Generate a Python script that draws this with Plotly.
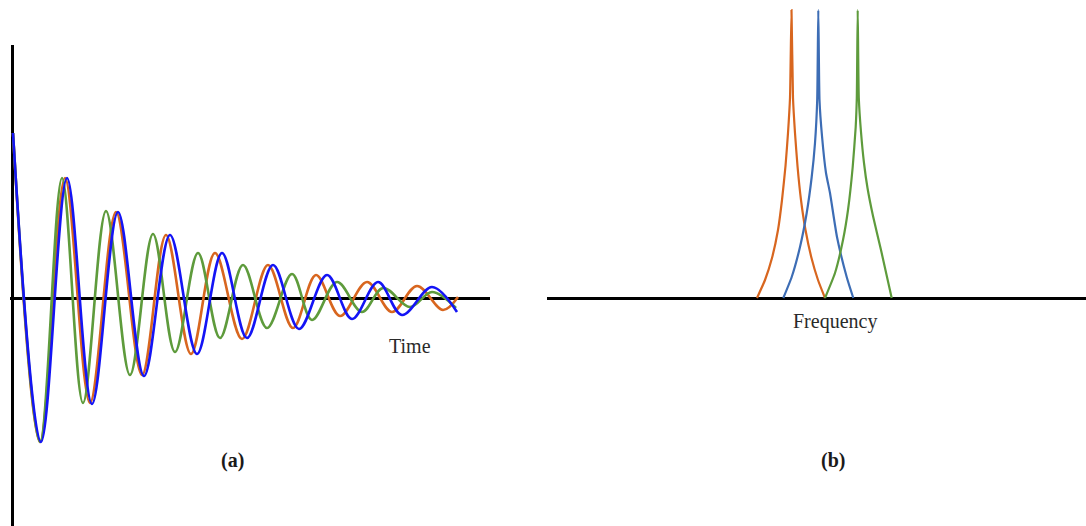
import plotly.graph_objects as go

W, H = 1086, 526

# ---------- Panel (a): damped oscillations (extrema) ----------
# x in time units (pixels from origin), y amplitude (pixels above baseline)
green_t = [1, 28, 50, 71, 94, 118, 141, 163, 186, 208, 231, 255, 280, 300, 325, 350, 371, 398, 420, 444]
green_a = [165, -144, 120, -105, 87, -77, 64, -54, 45, -40, 33, -30, 24, -22, 16, -14, 10, -9, 6, -10]

orange_t = [1, 28, 53, 78, 104, 130, 154, 179, 203, 230, 256, 281, 304, 328, 355, 380, 405, 431, 446]
orange_a = [165, -144, 120, -105, 86, -77, 63, -56, 45, -41, 33, -30, 23, -18, 16, -14, 12, -12, 1]

blue_t = [1, 29, 55, 80, 106, 132, 158, 185, 210, 235, 261, 287, 315, 340, 366, 390, 420, 445]
blue_a = [165, -144, 120, -106, 86, -78, 63, -56, 45, -40, 33, -31, 23, -21, 16, -17, 11, -14]

# ---------- Panel (b): spectral peaks ----------
orange_f = [757, 765, 772, 778, 782, 785.5, 788, 790, 791.5, 793, 795, 797.5, 801, 805.5, 811.5, 818, 825]
orange_s = [0, 18, 40, 68, 98, 132, 165, 200, 288, 200, 165, 132, 98, 68, 40, 18, 0]

blue_f = [783.3, 791.7, 800, 806.7, 811.7, 815, 817.2, 818.3, 819.5, 822, 826, 830, 837, 846.7, 853.3]
blue_s = [0, 21, 51, 85, 121, 155, 198, 288, 198, 162, 125, 105, 61, 21, 0]

green_f = [825, 835, 843, 848, 852.7, 855.7, 856.8, 857.7, 858.8, 861, 864, 867.5, 873, 881, 891.7]
green_s = [0, 25, 58, 88, 131, 171, 200, 288, 200, 166, 135, 110, 82, 48, 0]

C_ORANGE_A = "#D8661F"
C_BLUE_A = "#1414F5"
C_GREEN_A = "#5E9B3C"
C_ORANGE_B = "#D8661F"
C_BLUE_B = "#3D6DB5"
C_GREEN_B = "#5E9B3C"

fig = go.Figure()

for t, a, c in [(orange_t, orange_a, C_ORANGE_A), (green_t, green_a, C_GREEN_A), (blue_t, blue_a, C_BLUE_A)]:
    fig.add_trace(go.Scatter(x=t, y=a, mode="lines", xaxis="x", yaxis="y",
                             line=dict(color=c, width=2.6, shape="spline", smoothing=1.0),
                             hoverinfo="skip", showlegend=False))

for f, s, c in [(orange_f, orange_s, C_ORANGE_B), (blue_f, blue_s, C_BLUE_B), (green_f, green_s, C_GREEN_B)]:
    fig.add_trace(go.Scatter(x=f, y=s, mode="lines", xaxis="x2", yaxis="y2",
                             line=dict(color=c, width=2.2, shape="spline", smoothing=0.5),
                             hoverinfo="skip", showlegend=False))

ax_common = dict(showgrid=False, showticklabels=False, ticks="", showline=False)

fig.update_layout(
    width=W, height=H,
    margin=dict(l=0, r=0, t=0, b=0),
    paper_bgcolor="white", plot_bgcolor="white",
    xaxis=dict(domain=[10 / W, 490 / W], range=[-2, 478], zeroline=True,
               zerolinecolor="black", zerolinewidth=3, anchor="y", **ax_common),
    yaxis=dict(domain=[0, 481 / H], range=[-228, 253], zeroline=True,
               zerolinecolor="black", zerolinewidth=3, anchor="x", **ax_common),
    xaxis2=dict(domain=[547 / W, 1], range=[547, 1086], zeroline=False,
                anchor="y2", **ax_common),
    yaxis2=dict(domain=[0, 1], range=[-228, 298], zeroline=True,
                zerolinecolor="black", zerolinewidth=3, anchor="x2", **ax_common),
)

font = dict(family="Liberation Serif, Times New Roman, serif", size=20, color="#2a2a2a")
bold = dict(family="Liberation Serif, Times New Roman, serif", size=20, color="#1a1a1a")
for txt, px, py, fnt in [("Time", 410, 346, font), ("Frequency", 835, 321, font),
                         ("<b>(a)</b>", 232, 460, bold), ("<b>(b)</b>", 833, 460, bold)]:
    fig.add_annotation(text=txt, x=px / W, y=1 - py / H, xref="paper", yref="paper",
                       xanchor="center", yanchor="middle", showarrow=False, font=fnt)

fig.write_html("out.html", config={"displayModeBar": False},
               post_script="document.body.style.margin='0';")
